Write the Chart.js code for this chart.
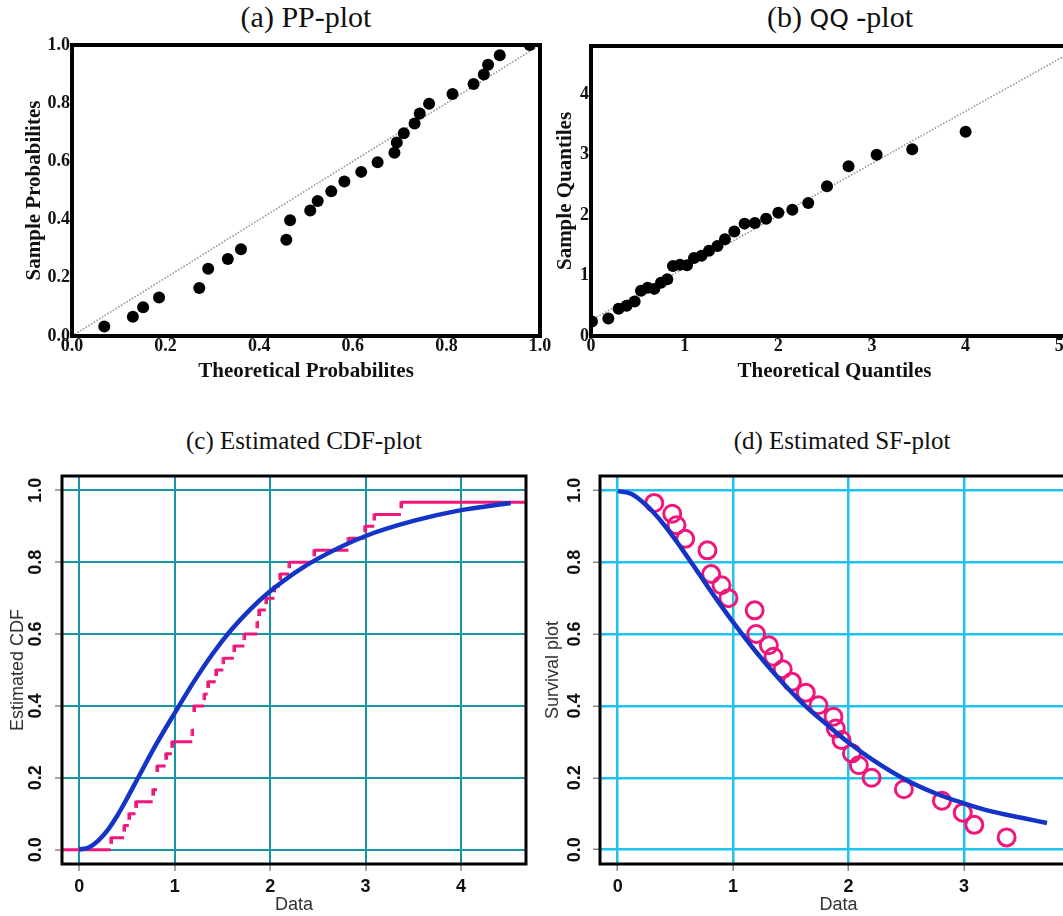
<!DOCTYPE html>
<html>
<head>
<meta charset="utf-8">
<script src="https://cdn.jsdelivr.net/npm/chart.js"></script>
<style>
  html, body { margin: 0; padding: 0; background: #fff; }
  #page { position: relative; width: 1063px; height: 916px; overflow: hidden; background: #fff; }
  canvas { position: absolute; }
  .ttl { position: absolute; font-family: "Liberation Serif", "Times New Roman", serif; font-size: 25px; color: #111;
         white-space: nowrap; transform: translate(-50%, -50%); }
  .big { font-size: 30px; }
</style>
</head>
<body>
<div id="page">
  <div class="ttl big" style="left:306px;top:17px">(a) PP-plot</div>
  <div class="ttl big" style="left:840px;top:17px">(b) <span style="font-family:'DejaVu Sans',sans-serif;font-size:25px">QQ</span> -plot</div>
  <div class="ttl" style="left:304px;top:441px">(c) Estimated CDF-plot</div>
  <div class="ttl" style="left:842px;top:441px">(d) Estimated SF-plot</div>
  <canvas id="pp" width="560" height="380" style="left:0;top:30px"></canvas>
  <canvas id="qq" width="560" height="380" style="left:548px;top:30px"></canvas>
  <canvas id="cdf" width="545" height="486" style="left:0;top:430px"></canvas>
  <canvas id="sf" width="560" height="486" style="left:540px;top:430px"></canvas>
</div>
<script>
// (a) PP-plot
const ppTheo   = [0.069, 0.130, 0.152, 0.186, 0.272, 0.291, 0.333, 0.361, 0.458, 0.466, 0.509, 0.525, 0.554, 0.582,
                  0.618, 0.653, 0.689, 0.694, 0.709, 0.732, 0.743, 0.763, 0.813, 0.858, 0.880, 0.889, 0.914, 0.978];
const ppSample = [0.033, 0.066, 0.099, 0.132, 0.165, 0.231, 0.265, 0.298, 0.331, 0.398, 0.431, 0.464, 0.497, 0.531,
                  0.564, 0.597, 0.630, 0.665, 0.697, 0.730, 0.765, 0.798, 0.832, 0.866, 0.899, 0.932, 0.965, 1.000];
const ppLineX = [0, 1];
const ppLineY = [0, 1];
const ppTicks = [0, 0.2, 0.4, 0.6, 0.8, 1.0];

// (b) QQ-plot
const qqTheo   = [0.01, 0.185, 0.295, 0.38, 0.466, 0.534, 0.605, 0.676, 0.747, 0.815, 0.875, 0.95, 1.025, 1.10, 1.18,
                  1.26, 1.35, 1.43, 1.53, 1.64, 1.75, 1.87, 2.00, 2.15, 2.32, 2.52, 2.75, 3.05, 3.43, 4.00];
const qqSample = [0.24, 0.29, 0.45, 0.50, 0.57, 0.75, 0.80, 0.78, 0.88, 0.94, 1.16, 1.18, 1.17, 1.29, 1.33,
                  1.41, 1.49, 1.60, 1.73, 1.86, 1.87, 1.94, 2.04, 2.09, 2.20, 2.48, 2.81, 3.00, 3.09, 3.38];
const qqLineX = [0, 5.2];
const qqLineY = [0.26, 4.76];
const qqXTicks = [0, 1, 2, 3, 4, 5];
const qqYTicks = [0, 1, 2, 3, 4];

// (c) estimated CDF: empirical steps + fitted curve
const cdfStepX = [0.33, 0.47, 0.52, 0.59, 0.77, 0.815, 0.905, 0.97, 1.185, 1.20, 1.31, 1.345, 1.43, 1.51,
                  1.62, 1.73, 1.865, 1.88, 1.955, 2.045, 2.10, 2.20, 2.46, 2.82, 2.99, 3.09, 3.37];
const cdfStepY = [0.033, 0.067, 0.100, 0.133, 0.167, 0.233, 0.267, 0.300, 0.333, 0.400, 0.433, 0.467, 0.500, 0.533,
                  0.567, 0.600, 0.633, 0.667, 0.700, 0.733, 0.767, 0.800, 0.833, 0.867, 0.900, 0.933, 0.967];
const cdfCurveX = [0, 0.1, 0.2, 0.3, 0.4, 0.5, 0.617, 0.8, 1.0, 1.2, 1.4, 1.6, 1.8, 2.0, 2.25, 2.5, 3.0, 3.5,
                   4.0, 4.52];
const cdfCurveY = [0, 0.006, 0.025, 0.055, 0.095, 0.142, 0.200, 0.290, 0.380, 0.467, 0.546, 0.614, 0.671, 0.719,
                   0.769, 0.810, 0.873, 0.915, 0.945, 0.965];
const cdfXRange = [-0.18, 4.68];
const cdfXTicks = [0, 1, 2, 3, 4];
const probTicks = [0, 0.2, 0.4, 0.6, 0.8, 1.0];

// (d) estimated survival function
const sfX = [0.317, 0.473, 0.51, 0.585, 0.778, 0.81, 0.90, 0.96, 1.187, 1.20, 1.31, 1.35, 1.43, 1.51,
             1.63, 1.74, 1.87, 1.89, 1.94, 2.03, 2.09, 2.20, 2.48, 2.81, 2.99, 3.09, 3.37];
const sfY = [0.965, 0.935, 0.903, 0.865, 0.833, 0.767, 0.736, 0.700, 0.666, 0.600, 0.569, 0.537, 0.502, 0.467,
             0.437, 0.402, 0.370, 0.337, 0.305, 0.268, 0.235, 0.200, 0.168, 0.136, 0.103, 0.069, 0.034];
const sfCurveX = [0, 0.12, 0.25, 0.4, 0.55, 0.7, 0.85, 1.0, 1.2, 1.4, 1.6, 1.835, 2.0, 2.21, 2.5, 2.79,
                  3.0, 3.22, 3.51, 3.72];
const sfCurveY = [0.998, 0.99, 0.958, 0.905, 0.840, 0.770, 0.700, 0.633, 0.550, 0.475, 0.408, 0.342, 0.298, 0.250,
                  0.194, 0.152, 0.129, 0.108, 0.088, 0.074];
const sfXTicks = [0, 1, 2, 3];

const PINK = '#f0167a';
const BLUE = '#1434c8';
const SERIF = "'Liberation Serif', 'Times New Roman', serif";
const SANS = "'Liberation Sans', Arial, sans-serif";

function pts(xs, ys) { return xs.map((x, i) => ({ x: x, y: ys[i] })); }

// R-like full box around the plot region
Chart.register({
  id: 'box',
  afterDatasetsDraw(chart, args, opts) {
    const a = chart.chartArea, c = chart.ctx;
    c.save();
    c.strokeStyle = '#000';
    c.lineWidth = opts.width || 3;
    c.strokeRect(a.left, a.top, a.right - a.left, a.bottom - a.top);
    c.restore();
  }
});

function axis(o) {
  return {
    type: 'linear', position: o.pos, min: o.min, max: o.max,
    afterBuildTicks: s => { s.ticks = o.ticks.map(v => ({ value: v })); },
    afterFit: s => { if (o.pos === 'left') s.width = o.size; else s.height = o.size; },
    grid: {
      display: !!o.grid, color: o.grid, lineWidth: o.gridWidth || 2,
      drawTicks: !!o.grid, tickLength: 7, tickColor: '#8a8a8a', tickWidth: 1.5
    },
    border: { display: false },
    ticks: {
      font: o.tickFont, color: '#111', padding: o.pad, callback: o.fmt, autoSkip: false,
      minRotation: o.rot || 0, maxRotation: o.rot || 0, crossAlign: o.rot ? 'center' : 'near'
    },
    title: { display: true, text: o.title, font: o.titleFont, color: o.titleColor || '#111', padding: 0 }
  };
}

function baseOptions(pad, boxWidth, x, y) {
  return {
    responsive: false, animation: false, devicePixelRatio: 1,
    layout: { padding: pad },
    plugins: { legend: { display: false }, tooltip: { enabled: false }, box: { width: boxWidth } },
    scales: { x: x, y: y }
  };
}

const serifTick = { family: SERIF, size: 18, weight: 'bold' };
const serifTitle = { family: SERIF, size: 21, weight: 'bold' };
const sansTick = { family: SANS, size: 18, weight: 'bold' };
const sansTitle = { family: SANS, size: 18 };

// (a)
new Chart(document.getElementById('pp'), {
  type: 'scatter',
  data: {
    datasets: [
      { data: pts(ppTheo, ppSample), pointRadius: 6, pointBackgroundColor: '#000', pointBorderWidth: 0 },
      { data: pts(ppLineX, ppLineY), showLine: true, borderColor: '#999', borderWidth: 1.6,
        borderDash: [1.6, 1.6], pointRadius: 0 }
    ]
  },
  options: baseOptions({ left: 22, top: 15, right: 20, bottom: 26 }, 4,
    axis({ pos: 'bottom', min: 0, max: 1, ticks: ppTicks, size: 48, pad: 0, fmt: v => v.toFixed(1),
           tickFont: serifTick, title: 'Theoretical Probabilites', titleFont: serifTitle }),
    axis({ pos: 'left', min: 0, max: 1, ticks: ppTicks, size: 50, pad: 2, fmt: v => v.toFixed(1),
           tickFont: serifTick, title: 'Sample Probabilites', titleFont: serifTitle }))
});

// (b)
new Chart(document.getElementById('qq'), {
  type: 'scatter',
  data: {
    datasets: [
      { data: pts(qqTheo, qqSample), pointRadius: 6, pointBackgroundColor: '#000', pointBorderWidth: 0 },
      { data: pts(qqLineX, qqLineY), showLine: true, borderColor: '#999', borderWidth: 1.6,
        borderDash: [1.6, 1.6], pointRadius: 0 }
    ]
  },
  options: baseOptions({ left: 5, top: 16, right: 30, bottom: 26 }, 4,
    axis({ pos: 'bottom', min: 0, max: 5.2, ticks: qqXTicks, size: 48, pad: 0, fmt: v => String(v),
           tickFont: serifTick, title: 'Theoretical Quantiles', titleFont: serifTitle }),
    axis({ pos: 'left', min: 0, max: 4.8, ticks: qqYTicks, size: 38, pad: 2, fmt: v => String(v),
           tickFont: serifTick, title: 'Sample Quantiles', titleFont: serifTitle }))
});

// (c) step segments without risers, and a small down-tick at the start of every step
const stepStart = [cdfXRange[0]].concat(cdfStepX);
const stepEnd = cdfStepX.concat([cdfXRange[1]]);
const stepLevel = [0].concat(cdfStepY);
const stepSegs = [];
stepLevel.forEach((lv, i) => {
  stepSegs.push({ x: stepStart[i], y: lv }, { x: stepEnd[i], y: lv }, { x: stepEnd[i], y: null });
});
const tickMark = document.createElement('canvas');
tickMark.width = 4; tickMark.height = 14;
const tctx = tickMark.getContext('2d');
tctx.fillStyle = PINK;
tctx.fillRect(0.5, 6, 3.5, 7);

new Chart(document.getElementById('cdf'), {
  type: 'scatter',
  data: {
    datasets: [
      { data: pts(cdfCurveX, cdfCurveY), showLine: true, borderColor: BLUE, borderWidth: 4.5,
        cubicInterpolationMode: 'monotone', pointRadius: 0 },
      { data: pts(cdfStepX, cdfStepY), pointStyle: tickMark, pointRadius: 4 },
      { data: stepSegs, showLine: true, borderColor: PINK, borderWidth: 3, pointRadius: 0, spanGaps: false }
    ]
  },
  options: baseOptions({ left: 7, top: 46, right: 19, bottom: 0 }, 3,
    axis({ pos: 'bottom', min: cdfXRange[0], max: cdfXRange[1], ticks: cdfXTicks, size: 52, pad: 5,
           fmt: v => String(v), tickFont: sansTick, title: 'Data', titleFont: sansTitle, titleColor: '#333',
           grid: '#1596a8', gridWidth: 2 }),
    axis({ pos: 'left', min: -0.04, max: 1.04, ticks: probTicks, size: 55, pad: 6.5, rot: 90,
           fmt: v => v.toFixed(1), tickFont: sansTick, title: 'Estimated CDF', titleFont: sansTitle,
           titleColor: '#333', grid: '#1596a8', gridWidth: 2 }))
});

// (d)
new Chart(document.getElementById('sf'), {
  type: 'scatter',
  data: {
    datasets: [
      { data: pts(sfCurveX, sfCurveY), showLine: true, borderColor: BLUE, borderWidth: 4.5,
        cubicInterpolationMode: 'monotone', pointRadius: 0 },
      { data: pts(sfX, sfY), pointRadius: 8.5, pointBorderWidth: 3, pointBorderColor: PINK,
        pointBackgroundColor: 'rgba(0,0,0,0)' }
    ]
  },
  options: baseOptions({ left: 2, top: 46, right: 23, bottom: 0 }, 3,
    axis({ pos: 'bottom', min: -0.153, max: 3.98, ticks: sfXTicks, size: 52, pad: 5,
           fmt: v => String(v), tickFont: sansTick, title: 'Data', titleFont: sansTitle, titleColor: '#333',
           grid: '#1ec4ec', gridWidth: 2.5 }),
    axis({ pos: 'left', min: -0.04, max: 1.04, ticks: probTicks, size: 58, pad: 5.5, rot: 90,
           fmt: v => v.toFixed(1), tickFont: sansTick, title: 'Survival plot', titleFont: sansTitle,
           titleColor: '#333', grid: '#1ec4ec', gridWidth: 2.5 }))
});
</script>
</body>
</html>
